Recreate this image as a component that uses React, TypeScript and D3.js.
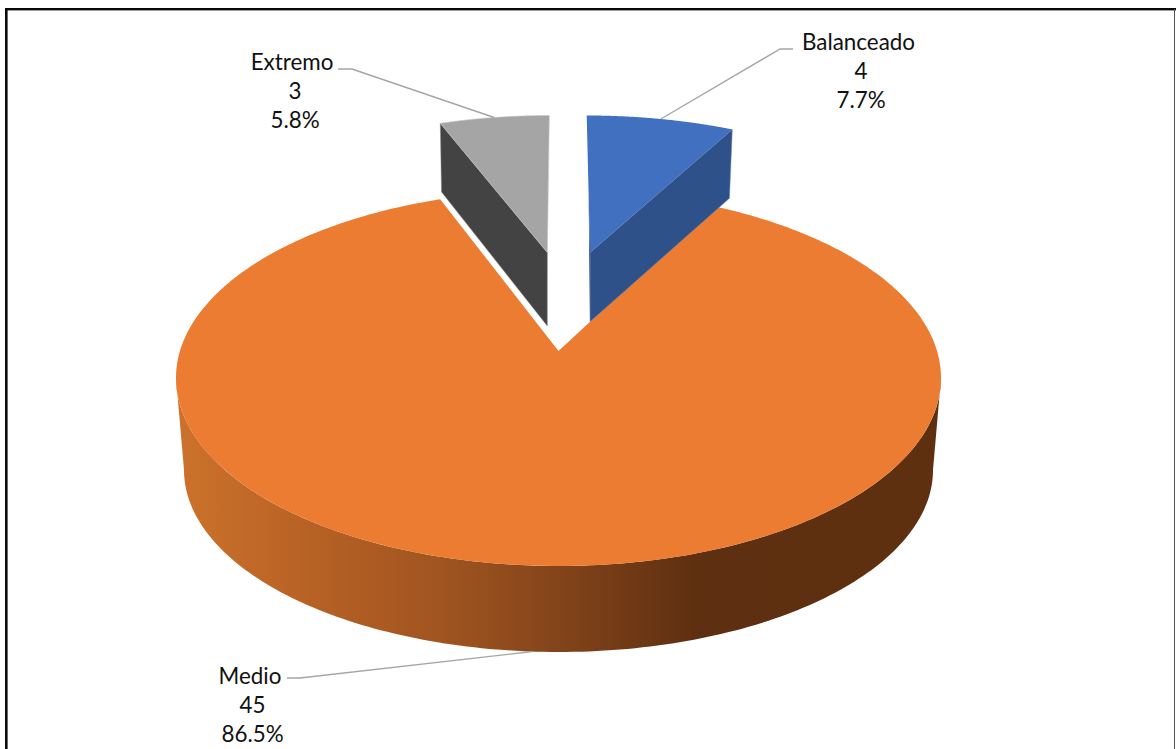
import React from "react";
import * as d3 from "d3";

const categories = ["Balanceado", "Medio", "Extremo"];
const counts = [4, 45, 3];
const percentLabels = ["7.7%", "86.5%", "5.8%"];

const topColors = ["#4270c0", "#eb7c31", "#a5a5a5"];
const sideColors = ["#2f5189", "", "#434343"];
const wallStops: [number, string][] = [
  [0, "#cc722b"], [0.2, "#b45f24"], [0.35, "#a05420"], [0.5, "#83441a"], [0.68, "#5e2f10"], [1, "#5f3010"],
];

const W = 1176, H = 749;
const TILT = 0.1436; // how far the apex sits above the ellipse centre, in radii

type Face = { cx: number; cy: number; rx: number; ry: number; lean: number };

// Perspective mapping of a point on the pie disc (radius r, angle a clockwise from 12 o'clock)
function project(f: Face, a: number, r = 1): [number, number] {
  const px = r * Math.sin(a), py = r * Math.cos(a);
  const d = 1 + TILT * py;
  const ux = (px * Math.sqrt(1 - TILT * TILT)) / d;
  const uy = (py + TILT) / d;
  return [f.cx + f.rx * ux + f.lean * (1 - uy), f.cy - f.ry * uy];
}

function arcPoints(f: Face, a0: number, a1: number, n = 160): [number, number][] {
  return d3.range(n + 1).map((i) => project(f, a0 + ((a1 - a0) * i) / n));
}

const poly = d3.line<[number, number]>();

const centreTop: Face = { cx: 558.5, cy: 378, rx: 382.5, ry: 188, lean: 0 };
const centreBottom: Face = { cx: 558.5, cy: 470, rx: 374.5, ry: 182, lean: 0 };
const blueTop: Face = { cx: 586.7, cy: 275.5, rx: 356, ry: 160, lean: 3.9 };
const blueBottom: Face = { cx: 586.7, cy: 344.7, rx: 349, ry: 160.4, lean: 3.9 };
const greyTop: Face = { cx: 549.3, cy: 275.5, rx: 352, ry: 160, lean: -2.3 };
const greyBottom: Face = { cx: 549.3, cy: 349.8, rx: 348, ry: 166, lean: -2.3 };

const labelBlocks = [
  { x: 861, nameX: 858.5, y: 50, line: [[793, 49], [780, 49]] as [number, number][] },
  { x: 252.6, nameX: 250, y: 683.5, line: [[287, 678], [300, 678]] as [number, number][] },
  { x: 295, nameX: 292, y: 70, line: [[338, 69], [352, 69]] as [number, number][] },
];

export default function App() {
  const slices = d3.pie<number>().sort(null).value((d) => d).startAngle(0).endAngle(2 * Math.PI)(counts);
  const [blue, orange, grey] = slices;

  const wallStart = Math.acos(-TILT);
  const wallEnd = 2 * Math.PI - wallStart;
  const wall = [...arcPoints(centreTop, wallStart, wallEnd), ...arcPoints(centreBottom, wallStart, wallEnd).reverse()];
  const orangeTop = [project(centreTop, 0, 0), ...arcPoints(centreTop, orange.startAngle, orange.endAngle, 400)];

  const blueFace = [project(blueTop, 0, 0), ...arcPoints(blueTop, blue.startAngle, blue.endAngle)];
  const blueCut = [
    project(blueTop, 0, 0), project(blueTop, blue.endAngle),
    project(blueBottom, blue.endAngle), project(blueBottom, 0, 0),
  ];
  const blueInner = [project(blueTop, 0), project(blueTop, 0, 0), project(blueBottom, 0, 0), project(blueTop, 0, 0.4)];
  const greyFace = [project(greyTop, 0, 0), ...arcPoints(greyTop, grey.startAngle, grey.endAngle)];
  const greyCut = [
    project(greyTop, 0, 0), project(greyTop, grey.startAngle),
    project(greyBottom, grey.startAngle), project(greyBottom, 0, 0),
  ];

  const mid = (s: d3.PieArcDatum<number>) => (s.startAngle + s.endAngle) / 2;
  const anchors: [number, number][] = [
    project(blueTop, mid(blue)),
    project(centreBottom, mid(orange)),
    project(greyTop, mid(grey)),
  ];

  return (
    <svg width={W} height={H} viewBox={`0 0 ${W} ${H}`} style={{ position: "absolute", left: 0, top: 0, display: "block", background: "#fff" }}>
      <defs>
        <linearGradient id="wallGrad" gradientUnits="userSpaceOnUse" x1={176} x2={941} y1={0} y2={0}>
          {wallStops.map(([o, c]) => <stop key={o} offset={o} stopColor={c} />)}
        </linearGradient>
      </defs>

      <rect x={5} y={8} width={W - 5} height={2.4} fill="#0a0a0a" />
      <rect x={5} y={8} width={2.6} height={H - 8} fill="#0a0a0a" />
      <rect x={1174} y={9} width={1} height={H - 9} fill="#555" />

      <path d={poly(wall)! + "Z"} fill="url(#wallGrad)" />
      <path d={poly(orangeTop)! + "Z"} fill={topColors[1]} />

      <path d={poly(greyCut)! + "Z"} fill={sideColors[2]} stroke="#8a8a8a" strokeWidth={0.5} />
      <path d={poly(greyFace)! + "Z"} fill={topColors[2]} stroke="#c4c4c4" strokeWidth={0.6} />

      <path d={poly(blueCut)! + "Z"} fill={sideColors[0]} stroke="#6f86ad" strokeWidth={0.5} />
      <path d={poly(blueInner)! + "Z"} fill="#1f3a68" />
      <path d={poly(blueFace)! + "Z"} fill={topColors[0]} />

      {categories.map((c, i) => {
        const b = labelBlocks[i];
        const pts = [...b.line, anchors[i]];
        return (
          <g key={c}>
            <path d={poly(pts)!} fill="none" stroke="#a5a5a5" strokeWidth={1.4} />
            <g fontFamily="Lato, Carlito, sans-serif" fontSize={22.4} fill="#111" textAnchor="middle">
              <text x={b.nameX} y={b.y}>{c}</text>
              <text x={b.x} y={b.y + 29}>{counts[i]}</text>
              <text x={b.x} y={b.y + 58}>{percentLabels[i]}</text>
            </g>
          </g>
        );
      })}
    </svg>
  );
}
